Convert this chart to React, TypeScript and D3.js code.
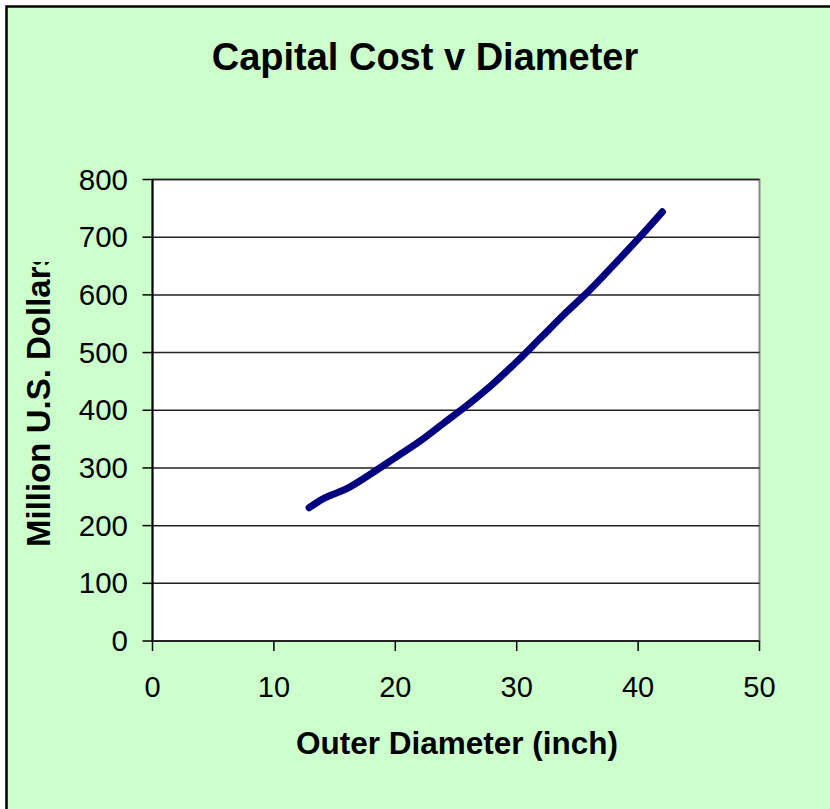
import React from "react";
import * as d3 from "d3";

const diameters = [12.9, 14, 16, 18, 20, 22, 24, 26, 28, 30, 32, 34, 36, 38, 40, 42];
const costs = [231, 246, 264, 290, 318, 346, 378, 410, 445, 484, 526, 568, 608, 652, 697, 744];
const xTicks = [0, 10, 20, 30, 40, 50];
const yTicks = [0, 100, 200, 300, 400, 500, 600, 700, 800];
const title = "Capital Cost v Diameter";
const xTitle = "Outer Diameter (inch)";
const yTitle = "Million U.S. Dollars";

const W = 830;
const H = 809;
const plot = { left: 152.5, right: 759.5, top: 179.5, bottom: 641 };

export default function App() {
  const x = d3.scaleLinear().domain([0, 50]).range([plot.left, plot.right]);
  const y = d3.scaleLinear().domain([0, 800]).range([plot.bottom, plot.top]);
  const data = diameters.map((d, i) => [d, costs[i]] as [number, number]);
  const line = d3
    .line<[number, number]>()
    .x((d) => x(d[0]))
    .y((d) => y(d[1]))
    .curve(d3.curveMonotoneX);
  const font = "'Liberation Sans', Arial, sans-serif";
  return (
    <svg
      width={W}
      height={H}
      style={{ position: "absolute", left: 0, top: 0, display: "block" }}
      fontFamily={font}
    >
      <defs>
        <clipPath id="ytclip">
          <rect x={0} y={262} width={100} height={400} />
        </clipPath>
      </defs>
      <rect x={0} y={0} width={W} height={H} fill="#ffffff" />
      <rect x={6.5} y={6.5} width={W + 20} height={H + 20} fill="#CCFFCC" stroke="#000" strokeWidth={2.5} />
      <text x={425} y={70} textAnchor="middle" fontSize={38} fontWeight="bold" fill="#000">
        {title}
      </text>
      <rect
        x={plot.left}
        y={plot.top}
        width={plot.right - plot.left}
        height={plot.bottom - plot.top}
        fill="#fff"
        stroke="#888"
        strokeWidth={2}
      />
      {yTicks.filter((t) => t > 0).map((t) => (
        <line key={"g" + t} x1={plot.left} x2={plot.right} y1={y(t)} y2={y(t)} stroke="#222" strokeWidth={1.5} />
      ))}
      {yTicks.map((t) => (
        <g key={"y" + t}>
          <line x1={plot.left - 10} x2={plot.left} y1={y(t)} y2={y(t)} stroke="#000" strokeWidth={1.5} />
          <text x={128} y={y(t) + 10} textAnchor="end" fontSize={29.5} fill="#000">
            {t}
          </text>
        </g>
      ))}
      {xTicks.map((t) => (
        <g key={"x" + t}>
          <line x1={x(t)} x2={x(t)} y1={plot.bottom} y2={plot.bottom + 10} stroke="#000" strokeWidth={1.5} />
          <text x={x(t)} y={697} textAnchor="middle" fontSize={29} fill="#000">
            {t}
          </text>
        </g>
      ))}
      <line x1={plot.left} x2={plot.left} y1={plot.top} y2={plot.bottom} stroke="#000" strokeWidth={2} />
      <line x1={plot.left} x2={plot.right} y1={plot.bottom} y2={plot.bottom} stroke="#222" strokeWidth={2} />
      <path
        d={line(data) || ""}
        fill="none"
        stroke="#000080"
        strokeWidth={7}
        strokeLinecap="round"
        strokeLinejoin="round"
      />
      <text x={457} y={754} textAnchor="middle" fontSize={31.5} fontWeight="bold" fill="#000">
        {xTitle}
      </text>
      <g clipPath="url(#ytclip)">
        <text
          transform="translate(49.5,547) rotate(-90)"
          textAnchor="start"
          fontSize={33}
          fontWeight="bold"
          fill="#000"
        >
          {yTitle}
        </text>
      </g>
    </svg>
  );
}
